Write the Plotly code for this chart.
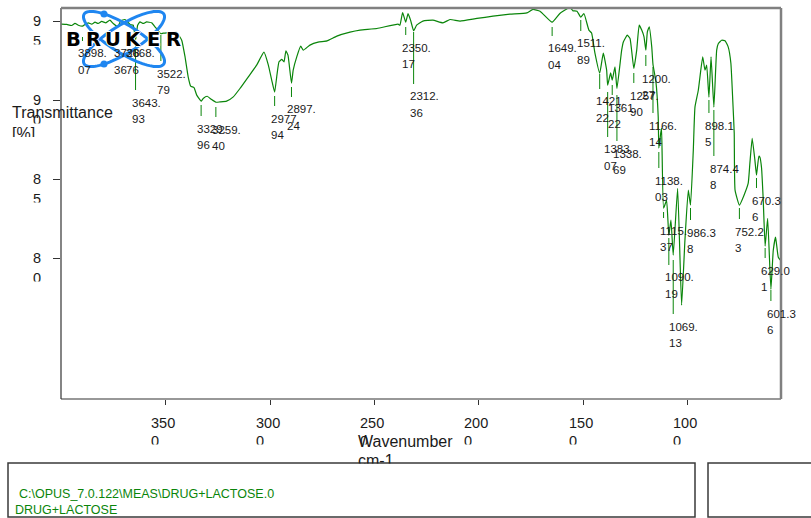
import numpy as np
import plotly.graph_objects as go

# ---------------------------------------------------------------- data
wavenumber = [
    3998, 3974, 3950, 3934, 3918, 3898.07, 3886, 3870, 3854, 3838, 3823, 3806,
    3786, 3767, 3751, 3728.36, 3715, 3695, 3668.76, 3655, 3643.93, 3634, 3623,
    3607, 3591, 3567, 3551, 3535, 3522.79, 3511, 3495, 3479, 3447, 3423, 3407,
    3392, 3380, 3364, 3351, 3329.96, 3320, 3301, 3280, 3259.40, 3240, 3208,
    3176, 3144, 3104, 3064, 3029, 3008, 2992, 2977.94, 2968, 2957, 2944, 2933,
    2924, 2914, 2897.24, 2889, 2872, 2853, 2841, 2809, 2770, 2727, 2680, 2617,
    2569, 2488, 2387, 2378, 2365, 2350.17, 2339, 2327, 2312.36, 2298, 2268,
    2220, 2172, 2138, 2090, 2009, 1932, 1851, 1770, 1741, 1707, 1649.04, 1612,
    1564, 1549, 1530, 1511.89, 1497, 1473, 1460, 1444, 1421.22, 1404, 1388,
    1383.07, 1369, 1361.22, 1348, 1338.69, 1316, 1308, 1289, 1276, 1257.90,
    1244, 1232, 1220, 1209, 1200.27, 1193, 1184, 1172, 1166.14, 1152, 1141,
    1138.03, 1129, 1125, 1115.37, 1101, 1090.19, 1080, 1069.13, 1048, 1029,
    1013, 997, 986.38, 973, 965, 949, 928, 917, 909, 898.15, 888, 874.48, 861,
    853, 837, 821, 806, 793, 784, 777, 773, 752.23, 730, 710, 702, 691, 678,
    670.36, 659, 654, 646, 638, 629.01, 617, 601.36, 590, 579, 566, 555,
]
transmittance = [
    94.82, 94.80, 94.73, 94.86, 94.75, 94.69, 94.80, 94.90, 94.82, 94.94, 94.86, 94.99,
    94.90, 95.07, 94.86, 94.66, 95.03, 95.11, 94.78, 94.75, 93.80, 94.75, 94.96,
    94.86, 94.96, 94.90, 94.65, 94.39, 94.21, 94.25, 94.26, 94.33, 94.29, 93.80, 92.74,
    91.48, 90.89, 90.80, 90.32, 89.94, 90.11, 90.25, 90.04, 89.87, 89.89, 89.94,
    90.21, 90.74, 91.48, 92.22, 93.04, 92.22, 91.27, 90.51, 91.48, 92.43, 92.58, 92.43,
    93.12, 92.85, 91.08, 91.90, 92.74, 93.42, 93.17, 93.49, 93.68, 93.76, 94.06, 94.31,
    94.44, 94.54, 94.82, 94.75, 95.55, 94.94, 95.48, 95.07, 94.40, 94.75, 95.01,
    95.07, 94.90, 95.11, 95.01, 95.18, 95.32, 95.45, 95.53, 95.75, 95.64, 94.94, 95.49,
    95.87, 95.66, 95.64, 95.26, 95.49, 94.44, 94.25, 92.98, 91.71, 92.98, 91.90,
    90.95, 91.73, 91.27, 92.11, 90.74, 93.17, 93.69, 94.12, 93.91, 92.01,
    93.17, 94.75, 94.44, 94.01, 93.17, 94.33, 94.65, 93.38, 92.28, 91.16, 88.94,
    86.96, 87.91, 88.23, 83.16, 83.66, 81.44, 82.40, 80.18, 84.42, 77.01,
    81.13, 84.30, 83.35, 86.83, 89.56, 90.63, 92.74, 91.90, 92.22, 90.19, 92.74, 89.56, 93.17,
    93.59, 93.80, 93.76, 93.38, 92.34, 90.00, 87.91, 84.30, 83.35, 83.98, 84.74, 86.01, 87.59, 86.20,
    85.25, 86.45, 86.39, 85.69, 83.66, 80.75, 82.52, 78.02, 80.49, 81.32, 80.05, 79.86,
]

# picked peaks
peak_wavenumbers = [
    3898.07, 3728.36, 3668.76, 3643.93, 3522.79, 3329.96, 3259.40, 2977.94,
    2897.24, 2350.17, 2312.36, 1649.04, 1511.89, 1421.22, 1383.07, 1361.22,
    1338.69, 1257.90, 1200.27, 1166.14, 1138.03, 1115.37, 1090.19, 1069.13,
    986.38, 898.15, 874.48, 752.23, 670.36, 629.01, 601.36,
]

x_tick_values = [3500, 3000, 2500, 2000, 1500, 1000]
y_tick_values = [95, 90, 85, 80]

file_path = "C:\\OPUS_7.0.122\\MEAS\\DRUG+LACTOSE.0"
sample_name = "DRUG+LACTOSE"

# ---------------------------------------------------------------- layout geometry (pixels)
W, H = 811, 518
PL, PR, PT, PB = 61, 781, 8, 399
X_RANGE = [4001, 553]
Y_RANGE = [71.07, 95.84]

# peak marker segments (top / bottom pixel rows), label sits below each
marker_top = [37, 37, 37, 42, 35, 105, 107, 96, 87, 27, 32, 27, 20, 74, 92, 85,
              95, 73, 55, 67, 152, 212, 238, 260, 208, 100, 110, 208, 178, 248, 290]
marker_bottom = [41, 41, 41, 90, 61, 116, 117, 106, 97, 35, 84, 36, 31, 89, 137, 95,
                 141, 83, 66, 113, 168, 218, 265, 314, 220, 113, 156, 219, 188, 258, 301]

GREEN = "#0a850a"
TXT = "#1a1a1a"
FONT = "Liberation Sans, Arial, sans-serif"


def fy(py):
    return (PB - py) / (PB - PT)


def fx(px):
    return (px - PL) / (PR - PL)


fig = go.Figure()
fig.add_trace(go.Scatter(
    x=wavenumber, y=transmittance, mode="lines",
    line=dict(color=GREEN, width=1.2, shape="spline", smoothing=0.4),
    hoverinfo="skip", showlegend=False,
))

shapes = []
annotations = []


def text_ann(text, x, y, xref, yref, size, xanchor="left", yanchor="middle",
             xshift=0, yshift=0, color=TXT, height=None, family=FONT):
    a = dict(text=text, x=x, y=y, xref=xref, yref=yref, showarrow=False,
             xanchor=xanchor, yanchor=yanchor, xshift=xshift, yshift=yshift,
             font=dict(family=family, size=size, color=color), borderpad=0,
             align="left")
    if height is not None:
        # fixed-height box: text overflowing the bottom edge is cut off
        a.update(height=height, valign="top", yanchor="top")
    return a


# BRUKER word mark, one letter per slot with a white halo
for i, ch in enumerate("BRUKER"):
    annotations.append(dict(
        text=f"<b>{ch}</b>", x=fx(73 + 20 * i), y=fy(39.5), xref="paper", yref="paper",
        showarrow=False, xanchor="center", yanchor="middle",
        font=dict(family="DejaVu Sans, sans-serif", size=19.5, color="#000000",
                  weight="bold",
                  shadow="1px 0 0 #fff, -1px 0 0 #fff, 0 1px 0 #fff, 0 -1px 0 #fff"),
    ))

# peak markers and two-line labels
for wn, top, bot in zip(peak_wavenumbers, marker_top, marker_bottom):
    shapes.append(dict(type="line", xref="x", yref="paper", x0=wn, x1=wn,
                       y0=fy(top), y1=fy(bot), line=dict(color=GREEN, width=1),
                       layer="above"))
    label = f"{wn:.2f}"
    annotations.append(text_ann(label[:5], wn, fy(bot + 12.5), "x", "paper", 11.5, xshift=-5))
    annotations.append(text_ann(label[5:], wn, fy(bot + 29), "x", "paper", 11.5, xshift=-5))

# y tick labels, second line cut off
for v in y_tick_values:
    s = str(v)
    annotations.append(text_ann(s[0], 0, v, "paper", "y", 14.5, xshift=32 - PL))
    annotations.append(text_ann(s[1], 0, v, "paper", "y", 14.5, xshift=32 - PL,
                                yshift=-11, height=11.5))

# x tick labels, wrapped after three characters
for v in x_tick_values:
    s = str(v)
    annotations.append(text_ann(s[:3], v, fy(423), "x", "paper", 14.5, xshift=-15.5))
    annotations.append(text_ann(s[3:], v, fy(432), "x", "paper", 14.5, xshift=-15.5, height=11.5))

# axis titles
annotations.append(text_ann("Transmittance", fx(11), fy(113), "paper", "paper", 16))
annotations.append(text_ann("[%]", fx(11), fy(124), "paper", "paper", 16, height=12))
annotations.append(text_ann("Wavenumber", fx(357), fy(441), "paper", "paper", 16))
annotations.append(text_ann("cm-1", fx(357), fy(451), "paper", "paper", 16, height=11.5))

# info boxes below the plot
for x0, x1 in [(8, 695), (708, 815)]:
    shapes.append(dict(type="rect", xref="paper", yref="paper",
                       x0=fx(x0), x1=fx(x1), y0=fy(463), y1=fy(517),
                       line=dict(color="#3a3a3a", width=1.5), layer="above"))
annotations.append(text_ann(file_path, fx(18), fy(494), "paper", "paper", 12.5, color=GREEN))
annotations.append(text_ann(sample_name, fx(14), fy(510), "paper", "paper", 12.5, color=GREEN))

# plot frame: dark left/bottom, heavier grey top/right
shapes += [
    dict(type="line", xref="paper", yref="paper", x0=0, x1=0, y0=0, y1=1,
         line=dict(color="#333333", width=1.2), layer="above"),
    dict(type="line", xref="paper", yref="paper", x0=0, x1=1, y0=0, y1=0,
         line=dict(color="#333333", width=1.2), layer="above"),
    dict(type="line", xref="paper", yref="paper", x0=0, x1=1, y0=1, y1=1,
         line=dict(color="#808080", width=2.5), layer="above"),
    dict(type="line", xref="paper", yref="paper", x0=1, x1=1, y0=0, y1=1,
         line=dict(color="#808080", width=2.5), layer="above"),
]

# BRUKER logo: two crossed ellipses with dots
LOGO_BLUE = "#1f86f0"
cx, cy, a, b = 124, 39, 47, 14
t = np.linspace(0, 2 * np.pi, 90)
for ang in (np.deg2rad(32), np.deg2rad(-32)):
    ex = cx + a * np.cos(t) * np.cos(ang) - b * np.sin(t) * np.sin(ang)
    ey = cy + a * np.cos(t) * np.sin(ang) + b * np.sin(t) * np.cos(ang)
    path = "M " + " L ".join(f"{fx(px):.5f},{fy(py):.5f}" for px, py in zip(ex, ey)) + " Z"
    shapes.append(dict(type="path", xref="paper", yref="paper", path=path,
                       line=dict(color=LOGO_BLUE, width=3), layer="above"))
for dx, dy in [(104, 14), (104, 64)]:
    shapes.append(dict(type="circle", xref="paper", yref="paper",
                       x0=fx(dx - 3.5), x1=fx(dx + 3.5), y0=fy(dy + 3.5), y1=fy(dy - 3.5),
                       fillcolor=LOGO_BLUE, line=dict(width=0), layer="above"))

fig.update_layout(
    width=W, height=H,
    margin=dict(l=PL, r=W - PR, t=PT, b=H - PB, pad=0),
    paper_bgcolor="white", plot_bgcolor="white",
    showlegend=False,
    xaxis=dict(range=X_RANGE, showgrid=False, zeroline=False, showline=False,
               tickvals=x_tick_values, ticks="outside", ticklen=5, tickcolor="#333",
               showticklabels=False),
    yaxis=dict(range=Y_RANGE, showgrid=False, zeroline=False, showline=False,
               tickvals=y_tick_values, ticks="outside", ticklen=7, tickcolor="#333",
               showticklabels=False),
    shapes=shapes,
    annotations=annotations,
)

fig.write_html("out.html")
